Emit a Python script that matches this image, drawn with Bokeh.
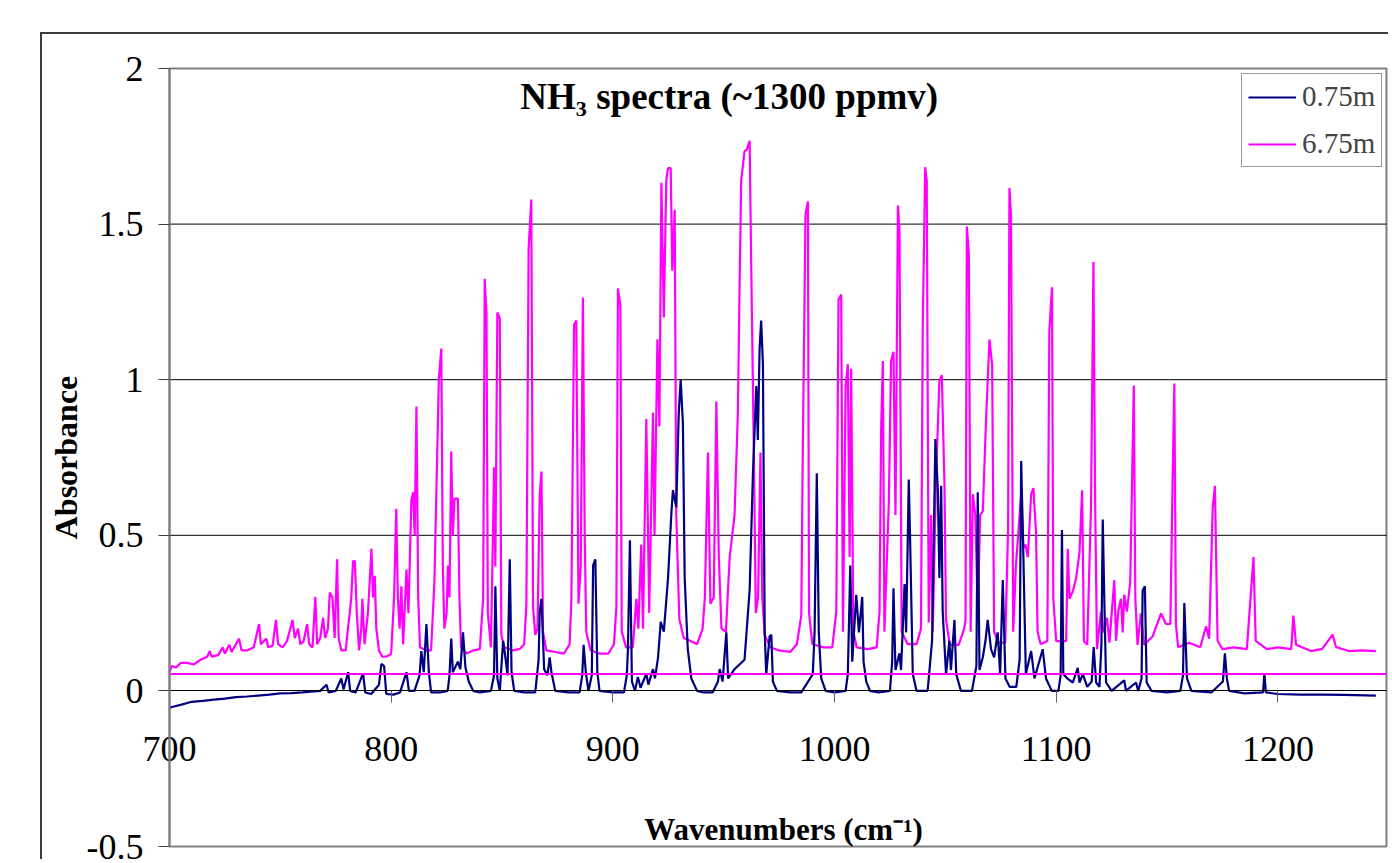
from bokeh.plotting import figure
from bokeh.models import (FixedTicker, NumeralTickFormatter, Range1d, Label,
                          Legend, LegendItem)
from bokeh.embed import file_html
from bokeh.resources import INLINE

# ---------------- data ----------------
title_text = "NH\u2083 spectra (~1300 ppmv)"
x_label = "Wavenumbers (cm\u207b\u00b9)"
y_label = "Absorbance"
series_names = ["0.75m", "6.75m"]
x_ticks = [700, 800, 900, 1000, 1100, 1200]
y_ticks = [-0.5, 0, 0.5, 1, 1.5, 2]
grid_ticks = [0.5, 1, 1.5]
x_limits = [700, 1249]
y_limits = [-0.5, 2]

# flat magenta reference line
ref_x = [700, 1249]
ref_y = [0.054, 0.054]

# 0.75 m path: (wavenumber, absorbance)
pts_075 = [
    (700, -0.054), (702, -0.05), (705, -0.045), (710, -0.035), (715, -0.032),
    (720, -0.028), (725, -0.025), (730, -0.02), (735, -0.018), (740, -0.015),
    (745, -0.012), (750, -0.008), (755, -0.007), (760, -0.005), (765, -0.002),
    (768, 0.0), (770.8, 0.02), (771.8, -0.005), (775, 0.0), (777.5, 0.04),
    (778.5, 0.005), (780.6, 0.06), (781.5, 0.0), (784, -0.005), (787.3, 0.056),
    (788.3, -0.005), (791, -0.01), (794.5, 0.02), (795.6, 0.087), (796.8, 0.08),
    (797.8, -0.01), (801, -0.012), (804, -0.005), (806.9, 0.06), (808, 0.0),
    (810.5, 0.0), (812.8, 0.05), (813.6, 0.128), (814.7, 0.06), (815.9, 0.215),
    (817, 0.06), (818, -0.005), (822, -0.005), (825.5, 0.0), (826.3, 0.05),
    (827.1, 0.168), (827.8, 0.06), (830.1, 0.094), (831.2, 0.07), (832.4, 0.188),
    (833.5, 0.075), (835, 0.03), (837, 0.0), (840, -0.005), (845, 0.0),
    (846.4, 0.05), (847, 0.336), (847.9, 0.04), (849, 0.0), (850.5, 0.161),
    (851.3, 0.12), (852.5, 0.05), (853.5, 0.423), (854.3, 0.06), (855.5, 0.0),
    (860, -0.005), (865, -0.005), (866.5, 0.1), (867, 0.255), (867.8, 0.296),
    (869, 0.07), (870.5, 0.05), (871.5, 0.108), (872.3, 0.06), (874, 0.0),
    (880, -0.005), (885, -0.005), (886.2, 0.05), (886.8, 0.148), (887.8, 0.06),
    (889, 0.0), (890.5, 0.05), (891.1, 0.403), (892.1, 0.423), (893, 0.06),
    (894, 0.0), (900, -0.005), (905, -0.005), (906.3, 0.05), (906.8, 0.134),
    (907.7, 0.484), (908.6, 0.03), (910, 0.0), (911.3, 0.045), (912.5, 0.01),
    (915.1, 0.055), (916, 0.02), (918.1, 0.07), (919, 0.04), (920.4, 0.108),
    (921.6, 0.222), (923, 0.19), (924.9, 0.363), (926.4, 0.571), (927.1, 0.645),
    (928.6, 0.59), (929.7, 0.887), (930.6, 1.0), (931.6, 0.86), (932.4, 0.363),
    (933.8, 0.134), (935.4, 0.04), (938, 0.0), (941, -0.005), (945, -0.005),
    (947.4, 0.03), (948.2, 0.07), (949.5, 0.03), (951.2, 0.188), (952, 0.04),
    (954.9, 0.07), (956.4, 0.08), (959.4, 0.1), (961.7, 0.323), (963.2, 0.699),
    (964.7, 0.98), (965.4, 0.806), (966.2, 1.10), (966.9, 1.19), (967.7, 1.05),
    (968.5, 0.188), (969.2, 0.054), (970.7, 0.175), (971.5, 0.18), (972.2, 0.03),
    (974, 0.0), (980, -0.005), (985, -0.005), (990.2, 0.054), (991, 0.188),
    (992, 0.699), (992.9, 0.188), (994, 0.04), (996, 0.0), (1000, -0.005),
    (1005, 0.0), (1006, 0.054), (1007.1, 0.403), (1008, 0.094), (1009.8, 0.309),
    (1011, 0.188), (1012.5, 0.302), (1013.1, 0.094), (1014.3, 0.03), (1016, 0.0),
    (1020, -0.005), (1025, 0.0), (1026, 0.094), (1026.6, 0.33), (1027.5, 0.067),
    (1029.3, 0.121), (1030, 0.067), (1031.6, 0.343), (1032.3, 0.188), (1033.5, 0.679),
    (1034.1, 0.484), (1035.3, 0.054), (1037, 0.0), (1042, 0.0), (1044, 0.161),
    (1045.5, 0.809), (1046.6, 0.645), (1047.3, 0.363), (1048.1, 0.659), (1048.8, 0.255),
    (1050.3, 0.054), (1051.8, 0.161), (1052.5, 0.067), (1054.1, 0.228), (1054.9, 0.054),
    (1057, 0.0), (1062, 0.0), (1064, 0.08), (1064.6, 0.638), (1065.4, 0.067),
    (1066.9, 0.108), (1068.1, 0.161), (1069.1, 0.228), (1070.6, 0.134), (1072, 0.108),
    (1073.6, 0.188), (1074.7, 0.054), (1075.9, 0.356), (1077.1, 0.04), (1079, 0.013),
    (1082, 0.013), (1083.5, 0.1), (1084.2, 0.739), (1085.2, 0.43), (1086.3, 0.054),
    (1088.7, 0.128), (1090.2, 0.04), (1093.9, 0.134), (1095.4, 0.04), (1098, 0.0),
    (1101, 0.0), (1102, 0.05), (1102.6, 0.517), (1103.2, 0.054), (1105, 0.04),
    (1107.5, 0.027), (1109.7, 0.074), (1110.5, 0.027), (1112, 0.054), (1114, 0.013),
    (1116, 0.03), (1116.9, 0.141), (1118, 0.027), (1119.5, 0.013), (1120.4, 0.15),
    (1121, 0.551), (1121.7, 0.296), (1122.5, 0.027), (1125, 0.0), (1130.7, 0.034),
    (1131.5, 0.0), (1136, 0.027), (1137, 0.0), (1138.5, 0.04), (1139, 0.323),
    (1140, 0.336), (1140.8, 0.027), (1143, 0.0), (1150, -0.005), (1156, 0.0),
    (1157.2, 0.05), (1157.8, 0.282), (1159, 0.04), (1161, 0.0), (1170, -0.005),
    (1175.2, 0.03), (1176.1, 0.121), (1177, 0.04), (1178, 0.0), (1185, -0.008),
    (1193.3, -0.005), (1193.9, 0.056), (1194.6, -0.005), (1200, -0.01), (1210, -0.012),
    (1220, -0.012), (1230, -0.013), (1244.2, -0.015),
]

# 6.75 m path: (wavenumber, absorbance)
pts_675 = [
    (700, 0.06), (701, 0.08), (703, 0.075), (705, 0.09), (708, 0.09), (711, 0.085),
    (714, 0.10), (717, 0.11), (718.2, 0.128), (719, 0.11), (722, 0.115), (724, 0.14),
    (725, 0.12), (727, 0.148), (728, 0.125), (731.4, 0.168), (732.5, 0.13), (735, 0.13),
    (738, 0.14), (740.4, 0.215), (741.2, 0.15), (743.7, 0.168), (744.5, 0.14),
    (746.5, 0.145), (748, 0.228), (749, 0.15), (751, 0.14), (753, 0.16), (755.5, 0.228),
    (756.5, 0.17), (758, 0.2), (759, 0.15), (760.5, 0.16), (762.1, 0.215), (763, 0.15),
    (764.5, 0.14), (765.8, 0.302), (766.6, 0.15), (768, 0.17), (769.3, 0.235),
    (770.2, 0.17), (771.5, 0.2), (772.3, 0.316), (773.5, 0.3), (774.5, 0.17),
    (775.6, 0.423), (776.3, 0.17), (777.5, 0.13), (779.5, 0.13), (780.5, 0.2),
    (781.3, 0.249), (782, 0.3), (782.8, 0.417), (783.6, 0.417), (784.5, 0.25),
    (785.5, 0.13), (786.5, 0.2), (787, 0.296), (788, 0.15), (789.5, 0.25), (790.3, 0.35),
    (791.1, 0.457), (791.8, 0.3), (792.6, 0.37), (793.3, 0.2), (794.5, 0.13), (796, 0.11),
    (798, 0.11), (800, 0.12), (801.3, 0.3), (802.3, 0.585), (803, 0.3), (803.8, 0.2),
    (804.6, 0.336), (805.4, 0.15), (806.9, 0.39), (807.8, 0.25), (809.1, 0.612),
    (809.9, 0.638), (810.6, 0.5), (811.4, 0.914), (812.2, 0.3), (813, 0.14), (816, 0.13),
    (818, 0.13), (819.5, 0.35), (821.5, 1.0), (822.6, 1.10), (823.3, 0.4), (824, 0.2),
    (825, 0.25), (825.6, 0.403), (826.3, 0.3), (827.1, 0.769), (827.8, 0.5),
    (828.6, 0.618), (830.1, 0.618), (830.8, 0.3), (831.5, 0.14), (834, 0.12),
    (837, 0.13), (840, 0.134), (841.5, 0.296), (842.2, 1.324), (843, 1.21),
    (843.6, 0.25), (845, 0.14), (846, 0.538), (846.4, 0.719), (847, 0.4), (847.9, 1.216),
    (849, 1.196), (849.7, 0.18), (851, 0.14), (855, 0.13), (858, 0.135), (860, 0.15),
    (861, 0.28), (862, 1.42), (863.2, 1.579), (864, 0.27), (865, 0.18), (866, 0.2),
    (867, 0.63), (867.8, 0.705), (868.5, 0.19), (870, 0.13), (874, 0.125), (878, 0.12),
    (880.5, 0.15), (881.3, 0.296), (882.5, 1.176), (883.5, 1.19), (884.5, 0.28),
    (885.5, 0.4), (886.5, 1.263), (887.3, 0.5), (888, 0.19), (890, 0.13), (894, 0.12),
    (898, 0.12), (900.5, 0.15), (901.6, 0.27), (902.3, 1.293), (903.4, 1.237),
    (904, 0.19), (906, 0.14), (909, 0.14), (910.6, 0.296), (911.5, 0.2), (912.8, 0.47),
    (913.6, 0.2), (915.1, 0.874), (916.4, 0.25), (918.1, 0.894), (918.8, 0.5),
    (920.1, 1.13), (921, 0.85), (921.9, 1.633), (923, 1.2), (924.1, 1.64), (924.9, 1.68),
    (926.1, 1.68), (926.8, 1.35), (927.9, 1.546), (928.6, 0.565), (930, 0.23),
    (932, 0.17), (935, 0.16), (938, 0.15), (940.5, 0.2), (941.5, 0.3), (942.9, 0.766),
    (944, 0.28), (945.5, 0.3), (946.7, 0.93), (947.8, 0.43), (949, 0.2), (951, 0.19),
    (952.7, 0.43), (954.9, 0.565), (956.4, 0.894), (957.2, 1.317), (957.9, 1.64),
    (959.4, 1.734), (960.5, 1.74), (961.7, 1.768), (962.4, 1.38), (963.6, 0.766),
    (964.5, 0.25), (965.5, 0.3), (966.6, 0.766), (967.4, 0.3), (968.5, 0.18),
    (971, 0.14), (975, 0.13), (980, 0.125), (983, 0.15), (985, 0.242), (985.7, 0.786),
    (986.9, 1.532), (988, 1.573), (988.5, 0.25), (990, 0.15), (995, 0.14), (999, 0.14),
    (1000.8, 0.255), (1001.8, 1.257), (1003, 1.274), (1003.8, 0.19), (1005, 0.98),
    (1006, 1.05), (1006.8, 0.43), (1007.5, 1.035), (1008.5, 0.19), (1010, 0.14),
    (1015, 0.134), (1019, 0.14), (1020.3, 0.255), (1021, 0.833), (1021.8, 1.06),
    (1022.5, 0.19), (1024.5, 0.605), (1025.5, 1.06), (1026.6, 1.09), (1027.5, 0.565),
    (1028.6, 1.56), (1029.3, 1.48), (1030.3, 0.19), (1033, 0.15), (1037, 0.15),
    (1039, 0.2), (1039.8, 1.169), (1040.9, 1.683), (1041.6, 1.64), (1042.5, 0.22),
    (1043.6, 0.565), (1044.3, 0.19), (1045.8, 0.685), (1047.3, 0.995), (1048.4, 1.015),
    (1049.6, 0.66), (1050.3, 0.23), (1052, 0.148), (1056, 0.148), (1058.5, 0.2),
    (1059.1, 0.228), (1059.7, 1.492), (1060.6, 1.405), (1061.4, 0.19), (1062.4, 0.632),
    (1063.5, 0.565), (1064.6, 0.255), (1065.7, 0.565), (1066.9, 0.578), (1068.4, 0.88),
    (1069.9, 1.129), (1071.1, 1.048), (1072, 0.19), (1074, 0.155), (1077, 0.155),
    (1078.3, 0.52), (1078.9, 1.616), (1079.6, 1.53), (1080.6, 0.19), (1081.8, 0.4),
    (1084.2, 0.632), (1085.2, 0.46), (1086.1, 0.47), (1087.2, 0.43), (1088.7, 0.632),
    (1089.7, 0.652), (1090.9, 0.51), (1091.6, 0.19), (1093, 0.15), (1096, 0.16),
    (1096.9, 1.156), (1098.1, 1.297), (1098.7, 0.296), (1100, 0.16), (1104.5, 0.16),
    (1105.2, 0.457), (1106, 0.296), (1107.5, 0.32), (1109, 0.363), (1110.5, 0.444),
    (1111.7, 0.645), (1112.5, 0.16), (1114, 0.148), (1115.7, 0.59), (1116.8, 1.378),
    (1117.6, 0.59), (1118.4, 0.134), (1120.2, 0.255), (1121.4, 0.188), (1122.9, 0.235),
    (1124, 0.155), (1126.2, 0.356), (1127, 0.161), (1128, 0.255), (1129.2, 0.296),
    (1130, 0.188), (1130.7, 0.309), (1131.9, 0.255), (1133.4, 0.35), (1135, 0.981),
    (1135.7, 0.296), (1136.7, 0.148), (1138.2, 0.249), (1139.7, 0.148), (1143.5, 0.175),
    (1147.3, 0.249), (1149.5, 0.215), (1151.5, 0.215), (1152.5, 0.672), (1153.3, 0.988),
    (1154, 0.215), (1155, 0.14), (1160, 0.155), (1165, 0.14), (1167.6, 0.208),
    (1169, 0.168), (1170.6, 0.59), (1171.6, 0.659), (1172.8, 0.161), (1175, 0.134),
    (1180, 0.14), (1186, 0.134), (1189, 0.43), (1190, 0.161), (1195, 0.134), (1200, 0.14),
    (1206, 0.134), (1207, 0.242), (1208.2, 0.148), (1215, 0.128), (1220, 0.135),
    (1224.7, 0.181), (1226.2, 0.141), (1232, 0.128), (1238, 0.13), (1244.2, 0.128),
]

wn_075 = [a for a, _ in pts_075]
abs_075 = [b for _, b in pts_075]
wn_675 = [a for a, _ in pts_675]
abs_675 = [b for _, b in pts_675]

# ---------------- layout (pixels) ----------------
FONT = "Liberation Serif"
W, H = 1348, 827
TOP = 10                     # space above the frame
AREA_L, AREA_R = 127, 1344   # plot area inside the frame (px from frame left)
AREA_T, AREA_B = 24, 802     # plot area inside the frame (px from frame top)
FRAME_H = H - TOP

px_x = (AREA_R - AREA_L) / (x_limits[1] - x_limits[0])
px_y = (AREA_B - AREA_T) / (y_limits[1] - y_limits[0])
xr = Range1d(x_limits[0] - AREA_L / px_x, x_limits[1] + (W - AREA_R) / px_x)
yr = Range1d(y_limits[0] - (FRAME_H - AREA_B) / px_y, y_limits[1] + AREA_T / px_y)

p = figure(width=W, height=H, output_backend="svg", toolbar_location=None,
           x_range=xr, y_range=yr, title=None,
           min_border_left=0, min_border_right=0, min_border_top=TOP,
           min_border_bottom=0)
p.margin = (32, 0, 0, 40)
p.styles = {"border-top": "2px solid #3c3c3c", "border-left": "2px solid #3c3c3c"}
p.background_fill_color = "white"
p.border_fill_color = "white"
p.outline_line_color = None

# plot-area box and horizontal gridlines
p.quad(left=[x_limits[0]], right=[x_limits[1]], bottom=[y_limits[0]], top=[y_limits[1]],
       fill_color=None, line_color="#808080", line_width=2)
p.segment(x0=[x_limits[0]] * len(grid_ticks), y0=grid_ticks,
          x1=[x_limits[1]] * len(grid_ticks), y1=grid_ticks,
          line_color="black", line_width=1)
p.xgrid.visible = False
p.ygrid.visible = False

# x axis sits on y = 0
xa = p.xaxis[0]
xa.fixed_location = 0
xa.bounds = tuple(x_limits)
xa.ticker = FixedTicker(ticks=x_ticks)
xa.formatter = NumeralTickFormatter(format="0")
xa.axis_line_color = "black"
xa.axis_line_width = 1
xa.major_tick_out = 12
xa.major_tick_in = 0
xa.major_tick_line_color = "#606060"
xa.minor_tick_line_color = None
xa.major_label_text_font = FONT
xa.major_label_text_font_size = "36px"
xa.major_label_text_color = "black"
xa.major_label_standoff = 34

# y axis sits on x = 700
ya = p.yaxis[0]
ya.fixed_location = x_limits[0]
ya.bounds = tuple(y_limits)
ya.ticker = FixedTicker(ticks=y_ticks)
ya.formatter = NumeralTickFormatter(format="0.[0]")
ya.axis_line_color = "#808080"
ya.axis_line_width = 2
ya.major_tick_out = 11
ya.major_tick_in = 0
ya.major_tick_line_color = "#404040"
ya.minor_tick_line_color = None
ya.major_label_text_font = FONT
ya.major_label_text_font_size = "36px"
ya.major_label_text_color = "black"
ya.major_label_standoff = 15
ya.axis_label = y_label
ya.axis_label_text_font = FONT
ya.axis_label_text_font_style = "bold"
ya.axis_label_text_font_size = "32px"
ya.axis_label_text_color = "black"
ya.axis_label_standoff = 0

r675 = p.line(wn_675, abs_675, line_color="#FF00FF", line_width=2.2)
r075 = p.line(wn_075, abs_075, line_color="#000080", line_width=2.2)
p.line(ref_x, ref_y, line_color="#FF00FF", line_width=2)

p.add_layout(Label(x=952.5, y=1.91, text=title_text, text_font=FONT,
                   text_font_size="37px", text_font_style="bold",
                   text_align="center", text_baseline="middle", text_color="black"))
p.add_layout(Label(x=977, y=-0.444, text=x_label, text_font=FONT,
                   text_font_size="31px", text_font_style="bold",
                   text_align="center", text_baseline="middle", text_color="black"))

# legend box placed in the top-right corner of the plot area
LEG_X, LEG_Y = 1199, FRAME_H - 123
legend = Legend(items=[LegendItem(label=series_names[0], renderers=[r075]),
                       LegendItem(label=series_names[1], renderers=[r675])],
                location=(LEG_X, LEG_Y))
legend.padding = 6
legend.spacing = 14
legend.glyph_width = 48
legend.label_standoff = 6
legend.label_text_font = FONT
legend.label_text_font_size = "29px"
legend.border_line_color = "#333333"
legend.border_line_width = 1.5
legend.background_fill_color = "white"
legend.background_fill_alpha = 1
p.add_layout(legend)

open("out.html", "w").write(file_html(p, INLINE))
